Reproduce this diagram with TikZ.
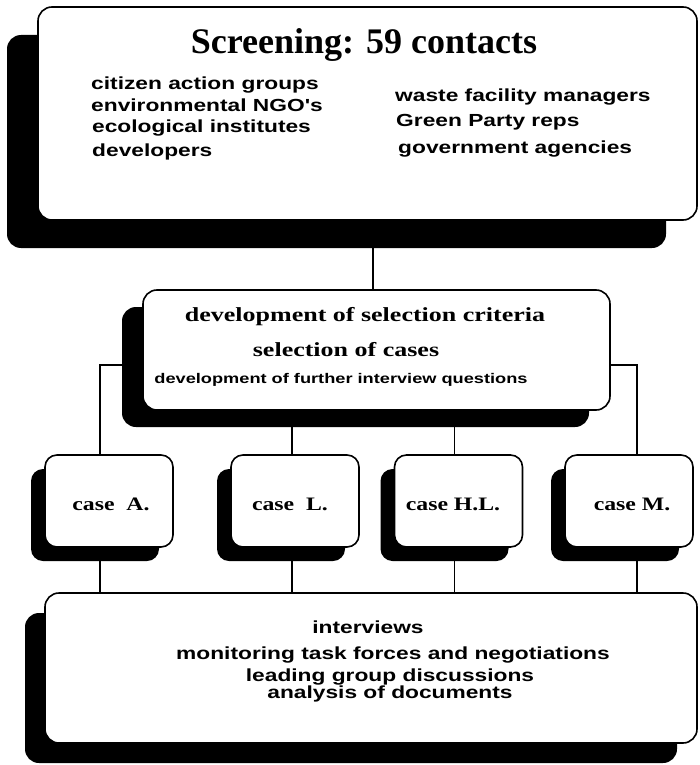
\documentclass[tikz,border=0pt]{standalone}
\usepackage{fontspec}
\usepackage{graphicx}
\setmainfont{Liberation Serif}
\newfontfamily\hsans{Liberation Sans}
\newcommand\widetxt[2]{\scalebox{#1}[1]{#2}}
\usetikzlibrary{shadows,backgrounds}
\begin{document}
\begin{tikzpicture}[x=1pt,y=-1pt,
  box/.style={draw=black, line width=1.6pt, fill=white, inner sep=0pt},
  bigbox/.style={box, rounded corners=14pt},
  casebox/.style={box, rounded corners=12pt, minimum width=128pt, minimum height=92pt,
     general shadow={fill=black, shadow xshift=-14pt, shadow yshift=-14pt}},
  conn/.style={draw=black, line width=1.8pt},
  ser/.style={font=\bfseries\fontsize{#1}{#1}\selectfont, inner sep=0pt},
  san/.style={font=\hsans\bfseries\fontsize{#1}{#1}\selectfont, inner sep=0pt},
]
\useasboundingbox (0,0) rectangle (700,765);
% boxes
\node[bigbox, minimum width=659pt, minimum height=213pt,
  general shadow={fill=black, shadow xshift=-31pt, shadow yshift=-28pt}] (top) at (367.5,113.5) {};
\node[bigbox, minimum width=467pt, minimum height=120pt,
  general shadow={fill=black, shadow xshift=-21pt, shadow yshift=-17pt}] (mid) at (376.5,350) {};
\node[casebox] (caseA) at (109,501) {};
\node[casebox] (caseL) at (295,501) {};
\node[casebox] (caseH) at (458.5,501) {};
\node[casebox] (caseM) at (629,501) {};
\node[bigbox, minimum width=652pt, minimum height=150pt,
  general shadow={fill=black, shadow xshift=-20pt, shadow yshift=-20pt}] (bot) at (371,668) {};
% connectors
\begin{scope}[on background layer]
\draw[conn] ([xshift=5.5pt]top.south) -- ([xshift=-3.5pt]mid.north);
\draw[conn] ([yshift=-15pt]mid.west) -| ([xshift=-9pt]caseA.north);
\draw[conn] ([yshift=-15pt]mid.east) -| ([xshift=8pt]caseM.north);
\draw[conn] ([xshift=-3pt]caseL.north) -- ([xshift=-3pt]caseL.north |- mid.south);
\draw[conn] ([xshift=-4pt]caseH.north) -- ([xshift=-4pt]caseH.north |- mid.south);
\draw[conn] ([xshift=-9pt]caseA.south) -- ([xshift=-9pt]caseA.south |- bot.north);
\draw[conn] ([xshift=-3pt]caseL.south) -- ([xshift=-3pt]caseL.south |- bot.north);
\draw[conn] ([xshift=-4pt]caseH.south) -- ([xshift=-4pt]caseH.south |- bot.north);
\draw[conn] ([xshift=8pt]caseM.south) -- ([xshift=8pt]caseM.south |- bot.north);
\end{scope}
% top texts
\node[ser=36, anchor=base] (title) at (364,54) {Screening: 59 contacts};
\node[san=17.5, anchor=base west] (t1) at (91,90) {\widetxt{1.3}{citizen action groups}};
\node[san=17.5, anchor=base west] (t2) at (91,112) {\widetxt{1.3}{environmental NGO's}};
\node[san=17.5, anchor=base west] (t3) at (92,132) {\widetxt{1.3}{ecological institutes}};
\node[san=17.5, anchor=base west] (t4) at (92,156) {\widetxt{1.3}{developers}};
\node[san=17.5, anchor=base west] (t5) at (395,102) {\widetxt{1.3}{waste facility managers}};
\node[san=17.5, anchor=base west] (t6) at (396,127) {\widetxt{1.3}{Green Party reps}};
\node[san=17.5, anchor=base west] (t7) at (398,153) {\widetxt{1.3}{government agencies}};
% middle texts
\node[ser=20, anchor=base] (m1) at (365,321) {\widetxt{1.3}{development of selection criteria}};
\node[ser=20, anchor=base] (m2) at (346,356) {\widetxt{1.3}{selection of cases}};
\node[san=14, anchor=base] (m3) at (341,383) {\widetxt{1.3}{development of further interview questions}};
% cases
\node[ser=19, anchor=base] (cA) at (111,510) {\widetxt{1.25}{case~ A.}};
\node[ser=19, anchor=base] (cL) at (290,510) {\widetxt{1.25}{case~ L.}};
\node[ser=19, anchor=base] (cH) at (453,510) {\widetxt{1.25}{case H.L.}};
\node[ser=19, anchor=base] (cM) at (632,510) {\widetxt{1.25}{case M.}};
% bottom texts
\node[san=17.5, anchor=base] (b1) at (368,633) {\widetxt{1.3}{interviews}};
\node[san=17.5, anchor=base] (b2) at (393,659) {\widetxt{1.3}{monitoring task forces and negotiations}};
\node[san=17.5, anchor=base] (b3) at (390,681) {\widetxt{1.3}{leading group discussions}};
\node[san=17.5, anchor=base] (b4) at (390,698) {\widetxt{1.3}{analysis of documents}};
\end{tikzpicture}
\end{document}
